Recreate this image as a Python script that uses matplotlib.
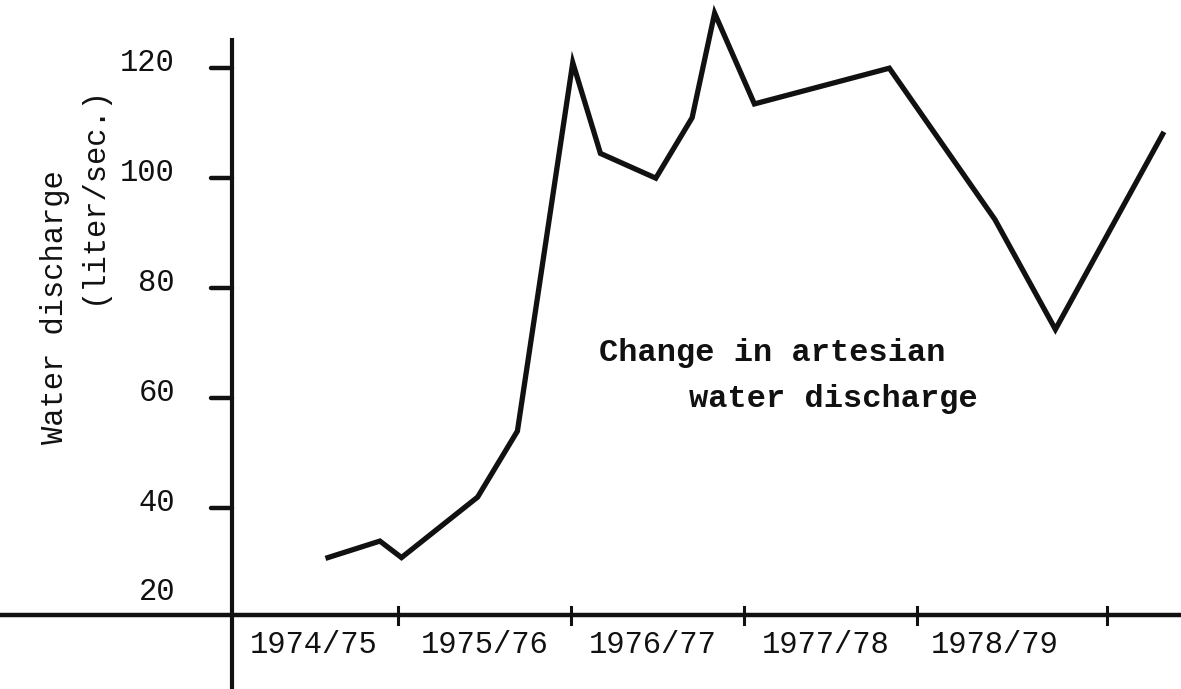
import matplotlib
matplotlib.use("Agg")
import matplotlib.pyplot as plt

# data: x in hydrological years from the start of the 1974/75 season
x_vals = [0.595, 0.895, 1.02, 1.46, 1.69, 2.01, 2.17, 2.49, 2.70, 2.83, 3.06, 3.84, 4.45, 4.80, 5.42]
discharge = [31, 34, 31, 42, 54, 121, 104.5, 100, 111, 130, 113.5, 120, 92.5, 72.5, 108]

year_ticks = [1.0, 2.0, 3.0, 4.0, 5.1]
year_label_pos = [0.51, 1.5, 2.47, 3.47, 4.45]
year_labels = ["1974/75", "1975/76", "1976/77", "1977/78", "1978/79"]
y_ticks = [40, 60, 80, 100, 120]

font = "Liberation Mono"
ink = "#111111"

fig = plt.figure(figsize=(11.81, 6.89), dpi=100)
ax = fig.add_axes([0, 0, 1, 1])
ax.set_xlim(-1.301, 5.526)
ax.set_ylim(7.1, 132.4)
ax.axis("off")

base = 20.5
# axes drawn by hand like the typed original
ax.plot([-1.301, 5.526], [base, base], color=ink, lw=3.2, solid_capstyle="butt")
ax.plot([0.04, 0.04], [7.1, 125.5], color=ink, lw=3.0, solid_capstyle="butt")

for t in y_ticks:
    ax.plot([-0.08, 0.04], [t, t], color=ink, lw=3.2, solid_capstyle="round")
    ax.text(-0.29, t + 0.9, str(t), ha="right", va="center", family=font, fontsize=22, color=ink)
ax.text(-0.29, 24.7, "20", ha="right", va="center", family=font, fontsize=22, color=ink)

for t in year_ticks:
    ax.plot([t, t], [base - 1.6, base + 1.6], color=ink, lw=2.2)
for p, lab in zip(year_label_pos, year_labels):
    ax.text(p, 15.1, lab, ha="center", va="center", family=font, fontsize=22, color=ink)

# the series
ax.plot(x_vals, discharge, color=ink, lw=3.8, solid_joinstyle="miter")

ax.text(-0.982, 76.5, "Water discharge", rotation=90, ha="center", va="center",
        family=font, fontsize=22, color=ink)
ax.text(-0.765, 97.0, "(liter/sec.)", rotation=90, ha="center", va="center",
        family=font, fontsize=22, color=ink)

ax.text(2.16, 68.2, "Change in artesian", ha="left", va="center",
        family=font, fontsize=23, fontweight="bold", color=ink)
ax.text(2.68, 59.8, "water discharge", ha="left", va="center",
        family=font, fontsize=23, fontweight="bold", color=ink)

fig.savefig("out.png", dpi=100, facecolor="white")
